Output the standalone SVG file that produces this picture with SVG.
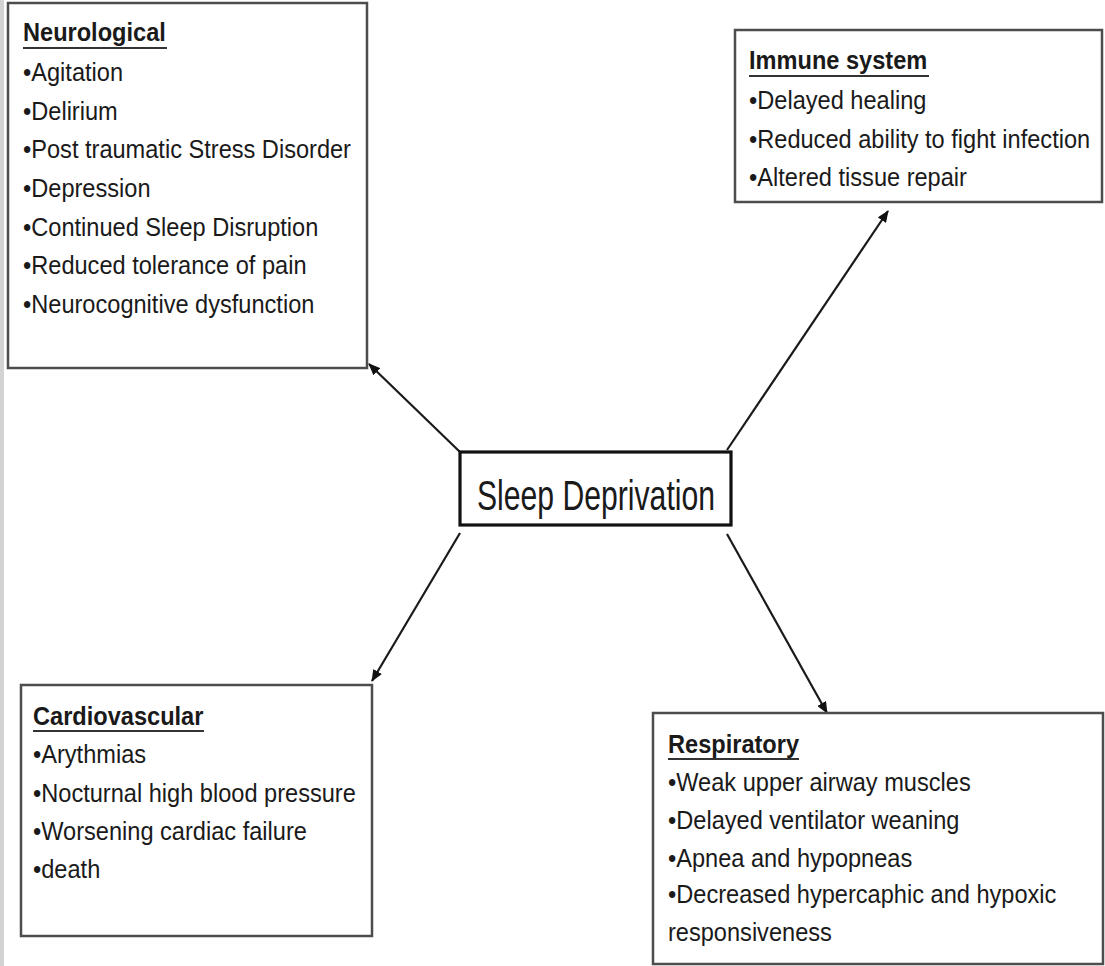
<svg xmlns="http://www.w3.org/2000/svg" width="1105" height="966" viewBox="0 0 1105 966">
<style>
.box{fill:#fff;stroke:#4d4d4d;stroke-width:2.5}
.core{fill:#fff;stroke:#111;stroke-width:3.2}
.t{font-family:"Liberation Sans",Arial,sans-serif;font-size:26.5px;fill:#1a1a1a}
.h{font-family:"Liberation Sans",Arial,sans-serif;font-size:26.5px;font-weight:bold;fill:#1a1a1a}
.ul{stroke:#333;stroke-width:2}
.c{font-family:"Liberation Sans",Arial,sans-serif;font-size:42px;fill:#1a1a1a}
.conn{stroke:#1a1a1a;stroke-width:2.2;fill:none;marker-end:url(#ah)}
</style>
<defs>
<marker id="ah" viewBox="0 0 12 10" refX="11" refY="5" markerWidth="12" markerHeight="10" markerUnits="userSpaceOnUse" orient="auto">
<path d="M0,0 L12,5 L0,10 z" fill="#111"/>
</marker>
</defs>
<rect x="0" y="0" width="1105" height="966" fill="#fff"/>
<rect x="0" y="0" width="4" height="966" fill="#d3d3d3"/>

<g id="connectors">
<line class="conn" x1="460" y1="452" x2="369" y2="364"/>
<line class="conn" x1="727" y1="450" x2="888" y2="211"/>
<line class="conn" x1="460" y1="533" x2="372" y2="681"/>
<line class="conn" x1="727" y1="534" x2="827" y2="713"/>
</g>

<g id="neurological">
<rect class="box" x="8" y="3" width="359" height="365"/>
<line class="ul" x1="23" y1="48" x2="167" y2="48"/>
<g transform="translate(23,0) scale(0.89,1)">
<text class="h" x="0" y="41">Neurological</text>
<text class="t" x="0" y="81">•Agitation</text>
<text class="t" x="0" y="120">•Delirium</text>
<text class="t" x="0" y="158">•Post traumatic Stress Disorder</text>
<text class="t" x="0" y="197">•Depression</text>
<text class="t" x="0" y="236">•Continued Sleep Disruption</text>
<text class="t" x="0" y="274">•Reduced tolerance of pain</text>
<text class="t" x="0" y="313">•Neurocognitive dysfunction</text>
</g>
</g>

<g id="immune">
<rect class="box" x="735" y="30" width="367" height="172"/>
<line class="ul" x1="749" y1="76" x2="929" y2="76"/>
<g transform="translate(749,0) scale(0.89,1)">
<text class="h" x="0" y="69">Immune system</text>
<text class="t" x="0" y="109">•Delayed healing</text>
<text class="t" x="0" y="148">•Reduced ability to fight infection</text>
<text class="t" x="0" y="186">•Altered tissue repair</text>
</g>
</g>

<g id="sleep-deprivation">
<rect class="core" x="460" y="452" width="271" height="73"/>
<text class="c" x="477" y="510" textLength="238" lengthAdjust="spacingAndGlyphs">Sleep Deprivation</text>
</g>

<g id="cardiovascular">
<rect class="box" x="21" y="685" width="351" height="251"/>
<line class="ul" x1="33" y1="731" x2="204" y2="731"/>
<g transform="translate(33,0) scale(0.89,1)">
<text class="h" x="0" y="725">Cardiovascular</text>
<text class="t" x="0" y="763">•Arythmias</text>
<text class="t" x="0" y="802">•Nocturnal high blood pressure</text>
<text class="t" x="0" y="840">•Worsening cardiac failure</text>
<text class="t" x="0" y="878">•death</text>
</g>
</g>

<g id="respiratory">
<rect class="box" x="653" y="713" width="450" height="251"/>
<line class="ul" x1="668" y1="759" x2="799" y2="759"/>
<g transform="translate(668,0) scale(0.89,1)">
<text class="h" x="0" y="753">Respiratory</text>
<text class="t" x="0" y="791">•Weak upper airway muscles</text>
<text class="t" x="0" y="829">•Delayed ventilator weaning</text>
<text class="t" x="0" y="867">•Apnea and hypopneas</text>
<text class="t" x="0" y="903">•Decreased hypercaphic and hypoxic</text>
<text class="t" x="0" y="941">responsiveness</text>
</g>
</g>
</svg>
